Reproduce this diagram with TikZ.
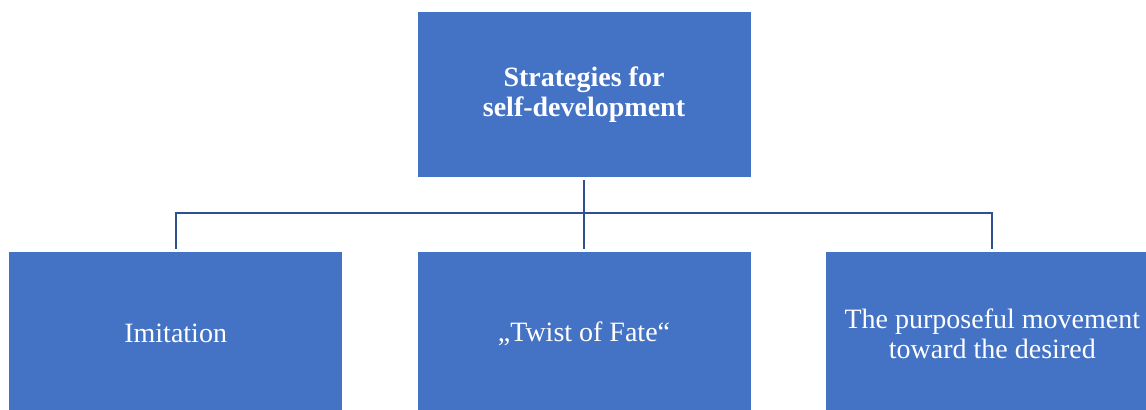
\documentclass[tikz,border=0pt]{standalone}
\usepackage{fontspec}
\setmainfont{Liberation Serif}
\usetikzlibrary{positioning}

\definecolor{boxblue}{HTML}{4472C4}
\definecolor{linkblue}{HTML}{2F528F}

\begin{document}
\begin{tikzpicture}[x=0.75pt,y=-0.75pt,node distance=55pt,
    box node/.style={rectangle,fill=boxblue,draw=white,line width=0.75pt,text=white,minimum width=250.5pt,minimum height=123.75pt,align=center,font=\fontsize{21}{22.5}\selectfont},
    link/.style={draw=linkblue,line width=1.6pt}]

        \useasboundingbox (0,0) rectangle (1146,410);
        \clip (0,0) rectangle (1146,410);

        \node[box node, font=\fontsize{21}{22.5}\selectfont\bfseries] (top) at (584,94.5) {Strategies for\\self-development};

        \node[box node] (twist) [below=55pt of top] {„Twist of Fate“};
        \node[box node] (imit) [left=55pt of twist] {Imitation};
        \node[box node] (purp) [right=55pt of twist] {The purposeful movement\\toward the desired};

        \coordinate (fork) at (584,213);

        \draw[link, shorten <=2pt] (top) -- (fork);
        \draw[link, shorten >=1.5pt] (fork) -| (imit);
        \draw[link, shorten >=1.5pt] (fork) -- (twist);
        \draw[link, shorten >=1.5pt] (fork) -| (purp);
    \end{tikzpicture}
\end{document}
